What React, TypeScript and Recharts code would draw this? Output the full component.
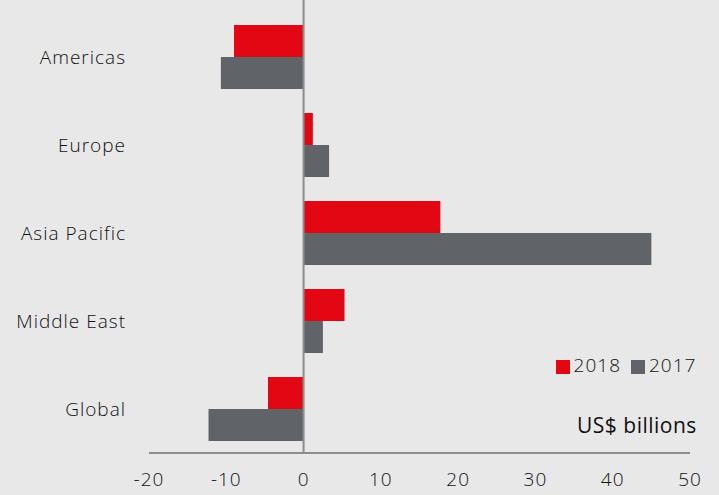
import { BarChart, Bar, XAxis, YAxis, ReferenceLine, Legend } from "recharts";

const regions = ["Americas", "Europe", "Asia Pacific", "Middle East", "Global"];
const values2018 = [-9.0, 1.2, 17.7, 5.3, -4.6];
const values2017 = [-10.7, 3.3, 45.0, 2.5, -12.3];
const xTicks = [-20, -10, 0, 10, 20, 30, 40, 50];

const chartData = regions.map((region, i) => ({
  region,
  y2018: values2018[i],
  y2017: values2017[i],
}));

const font = "'Open Sans', 'Noto Sans', sans-serif";

export default function App() {
  return (
    <div
      style={{
        position: "fixed",
        left: 0,
        top: 0,
        width: 719,
        height: 495,
        background: "#e8e8e8",
        fontFamily: font,
      }}
    >
      <BarChart
        width={719}
        height={495}
        data={chartData}
        layout="vertical"
        margin={{ top: 0, right: 29, bottom: 0, left: 0 }}
        barGap={0}
      >
        <XAxis
          type="number"
          domain={[-20, 50]}
          ticks={xTicks}
          height={42}
          tickLine={false}
          tickSize={0}
          tickMargin={20}
          axisLine={{ stroke: "#8c8c8c", strokeWidth: 2 }}
          tick={{ fill: "#111", fontSize: 19, fontFamily: font, fontWeight: 300, letterSpacing: 1 }}
          interval={0}
        />
        <YAxis
          type="category"
          dataKey="region"
          width={149}
          padding={{ top: 13, bottom: 0 }}
          axisLine={false}
          tickLine={false}
          tickSize={0}
          tickMargin={23}
          tick={{ fill: "#111", fontSize: 19, fontFamily: font, fontWeight: 300, letterSpacing: 1 }}
        />
        <ReferenceLine x={0} stroke="#8c8c8c" strokeWidth={2} />
        <Bar dataKey="y2018" name="2018" fill="#e30613" barSize={32} isAnimationActive={false} />
        <Bar dataKey="y2017" name="2017" fill="#606368" barSize={32} isAnimationActive={false} />
        <Legend
          layout="horizontal"
          align="center"
          verticalAlign="middle"
          iconType="square"
          iconSize={14}
          itemSorter={(item: any) => (item.dataKey === "y2018" ? 0 : 1)}
          wrapperStyle={{ position: "absolute", left: 546, top: 352, width: 170, fontSize: 19, letterSpacing: 1, fontWeight: 300 }}
          formatter={(value: string) => <span style={{ color: "#111" }}>{value}</span>}
        />
      </BarChart>
      <div
        style={{
          position: "absolute",
          left: 577,
          top: 411,
          fontSize: 21,
          color: "#111",
          letterSpacing: 0.5,
        }}
      >
        US$ billions
      </div>
    </div>
  );
}
